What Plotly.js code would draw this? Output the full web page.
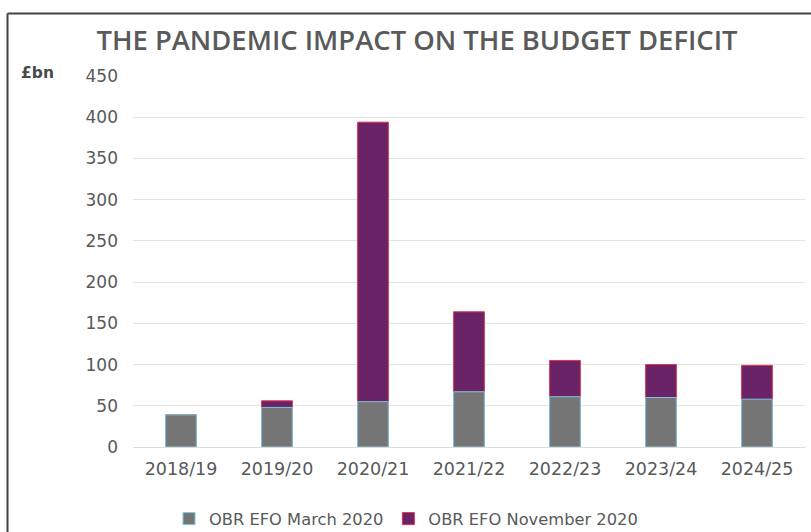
<!DOCTYPE html>
<html>
<head>
<meta charset="utf-8">
<script src="https://cdn.plot.ly/plotly-3.0.1.min.js"></script>
<style>html,body{margin:0;padding:0;background:#fff;}#chart{width:811px;height:532px;}</style>
</head>
<body>
<div id="chart"></div>
<script>
const years = ["2018/19", "2019/20", "2020/21", "2021/22", "2022/23", "2023/24", "2024/25"];
const march2020 = [39, 48, 55, 67, 61, 60, 58];
const november2020 = [39, 56, 394, 164, 105, 100, 99];
const seriesNames = ["OBR EFO March 2020", "OBR EFO November 2020"];
const yTicks = [0, 50, 100, 150, 200, 250, 300, 350, 400, 450];

const W = 811, H = 532;
const plotL = 133, plotR = 805, plotT = 76, plotB = 447;
const px = v => (v - plotL) / (plotR - plotL);
const py = v => (plotB - v) / (plotB - plotT);

const traces = [
  {
    type: "bar", x: years, y: november2020, name: seriesNames[1],
    marker: {color: "#6a2367", line: {color: "#e0304a", width: 1}},
    hoverinfo: "x+y+name"
  },
  {
    type: "bar", x: years, y: march2020, name: seriesNames[0],
    marker: {color: "#757575", line: {color: "#7cc8e0", width: 1}},
    hoverinfo: "x+y+name"
  }
];

const font = "'DejaVu Sans', Verdana, sans-serif";
const layout = {
  width: W, height: H,
  margin: {l: plotL, r: W - plotR, t: plotT, b: H - plotB},
  paper_bgcolor: "#fff", plot_bgcolor: "#fff",
  barmode: "overlay",
  bargap: 0.68,
  title: {
    text: "THE PANDEMIC IMPACT ON THE BUDGET DEFICIT",
    font: {family: "'Open Sans', sans-serif", size: 27.4, weight: 600, color: "#5a5a5a"},
    xref: "container", x: 417 / W, xanchor: "center",
    yref: "container", y: 1 - 40 / H, yanchor: "middle"
  },
  xaxis: {
    type: "category",
    showgrid: false, zeroline: false, showline: false, ticks: "",
    tickfont: {family: font, size: 17.5, color: "#595959"},
    ticklabelstandoff: 9
  },
  yaxis: {
    range: [0, 450], tickvals: yTicks, ticktext: yTicks.map(String),
    showgrid: true, gridcolor: "#e3e3e3", gridwidth: 1,
    zeroline: true, zerolinecolor: "#dcdcdc", zerolinewidth: 1,
    showline: false, ticks: "",
    tickfont: {family: font, size: 17, color: "#595959"},
    ticklabelstandoff: 14
  },
  showlegend: true,
  legend: {
    orientation: "h", traceorder: "reversed",
    xref: "container", x: 406 / W, xanchor: "center",
    yref: "container", y: 1 - 519 / H, yanchor: "middle",
    font: {family: font, size: 16.3, color: "#595959"},
    itemwidth: 30
  },
  annotations: [{
    text: "£bn", xref: "paper", yref: "paper",
    x: px(37), y: py(73), xanchor: "center", yanchor: "middle",
    showarrow: false, font: {family: font, size: 15.5, weight: "bold", color: "#4a4a4a"}
  }],
  shapes: [
    {type: "line", xref: "paper", yref: "paper", x0: px(7.5), x1: px(815), y0: py(13.5), y1: py(13.5),
     line: {color: "#444", width: 2}},
    {type: "line", xref: "paper", yref: "paper", x0: px(7.5), x1: px(7.5), y0: py(13.5), y1: py(540),
     line: {color: "#444", width: 2}}
  ]
};

Plotly.newPlot("chart", traces, layout, {displayModeBar: false, staticPlot: true});
</script>
</body>
</html>
